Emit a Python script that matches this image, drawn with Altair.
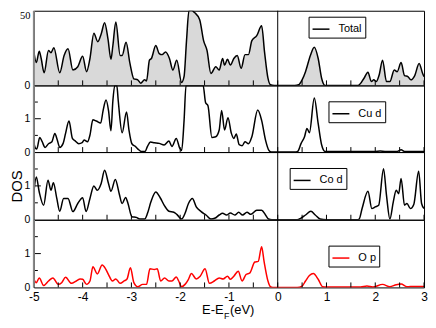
import altair as alt
import pandas as pd

FONT = "Liberation Sans"
SERIF = "Liberation Serif"
W = 392
HEIGHTS = [75, 67, 68, 68]

# ---- data ----
E_total = [-5.00, -4.95, -4.89, -4.85, -4.79, -4.70, -4.65, -4.59, -4.47, -4.38, -4.30, -4.20, -4.10, -4.00,
           -3.92, -3.85, -3.77, -3.69, -3.62, -3.55, -3.48, -3.42, -3.38, -3.32, -3.23, -3.19, -3.11, -3.03,
           -2.95, -2.87, -2.81, -2.73, -2.69, -2.63, -2.59, -2.50, -2.43, -2.37, -2.30, -2.22, -2.15, -2.07,
           -1.97, -1.92, -1.87, -1.82, -1.76, -1.70, -1.60, -1.52, -1.45, -1.37, -1.27, -1.20, -1.13, -1.09,
           -1.03, -0.97, -0.90, -0.83, -0.75, -0.67, -0.60, -0.53, -0.43, -0.33, -0.27, -0.20, -0.15, -0.07,
           0.35, 0.43, 0.50, 0.57, 0.67, 0.75, 0.83, 0.90, 0.97, 1.65, 1.77, 1.85, 1.92, 1.97, 2.02, 2.08,
           2.15, 2.23, 2.30, 2.39, 2.45, 2.53, 2.60, 2.67, 2.73, 2.81, 2.90, 2.97, 3.00]
V_total = [22.4, 15.3, 22.8, 18.0, 8.5, 23.4, 21.9, 25.2, 8.5, 20.0, 24.5, 10.3, 12.5, 19.5,
           9.2, 18.0, 35.0, 29.3, 34.4, 42.0, 31.0, 17.5, 26.7, 42.5, 20.0, 20.0, 28.9, 14.7,
           4.4, 3.7, 1.5, 3.7, 3.0, 16.9, 18.0, 26.7, 21.3, 20.6, 22.3, 18.0, 10.3, 16.9,
           2.0, 6.0, 30.0, 54.0, 53.0, 48.6, 44.0, 30.0, 23.4, 8.0, 12.5, 10.3, 18.0, 13.6,
           17.5, 13.6, 18.0, 20.0, 11.4, 20.6, 20.6, 30.0, 33.3, 39.9, 22.3, 4.8, 0.4, 0.0,
           0.0, 0.4, 3.7, 9.2, 20.0, 25.6, 18.0, 4.8, 0.0, 0.0, 4.8, 8.8, 2.6, 3.7, 2.6, 7.0,
           16.9, 2.6, 2.6, 10.3, 9.2, 15.3, 6.6, 5.9, 3.7, 6.6, 14.7, 8.1, 5.9]

E_cu = [-5.00, -4.97, -4.94, -4.88, -4.83, -4.77, -4.70, -4.63, -4.57, -4.52, -4.47, -4.40, -4.35, -4.28,
        -4.21, -4.15, -4.08, -4.01, -3.97, -3.90, -3.85, -3.79, -3.72, -3.63, -3.58, -3.52, -3.47, -3.42,
        -3.38, -3.34, -3.30, -3.27, -3.19, -3.10, -3.05, -2.99, -2.92, -2.85, -2.80, -2.72, -2.67, -2.61,
        -2.53, -2.43, -2.33, -2.23, -2.17, -2.08, -2.01, -1.97, -1.92, -1.88, -1.80, -1.70, -1.60, -1.53,
        -1.48, -1.43, -1.35, -1.27, -1.20, -1.15, -1.09, -1.02, -0.95, -0.90, -0.85, -0.79, -0.73, -0.67,
        -0.60, -0.53, -0.41, -0.33, -0.25, -0.18, -0.13, 0.35, 0.41, 0.48, 0.55, 0.60, 0.65, 0.75, 0.83,
        0.90, 0.97, 2.00, 2.10, 2.20, 2.45, 2.53, 2.60, 3.00]
V_cu = [0.28, 0.12, 0.09, 0.44, 0.31, 0.14, 0.25, 0.31, 0.56, 0.36, 0.14, 0.26, 0.56, 0.93,
        0.41, 0.33, 0.25, 0.28, 0.36, 0.31, 0.51, 0.97, 0.93, 0.87, 1.25, 1.56, 1.25, 0.64,
        1.54, 2.5, 2.4, 1.54, 0.58, 1.20, 0.66, 0.25, 0.17, 0.07, 0.02, 0.02, 0.17, 0.30,
        0.28, 0.26, 0.21, 0.33, 0.17, 0.41, 0.12, 0.05, 0.95, 2.5, 4.0, 4.0, 3.0, 2.05,
        1.49, 1.39, 0.44, 0.46, 0.66, 1.25, 0.66, 1.03, 0.56, 0.41, 0.54, 0.22, 0.19, 0.31,
        0.25, 0.46, 1.26, 0.95, 0.36, 0.05, 0.0, 0.0, 0.02, 0.26, 0.46, 0.71, 0.58, 1.62, 0.85,
        0.22, 0.02, 0.02, 0.03, 0.02, 0.02, 0.07, 0.02, 0.02]

E_co = [-5.00, -4.95, -4.89, -4.80, -4.71, -4.65, -4.60, -4.53, -4.47, -4.39, -4.30, -4.20, -4.10, -4.00,
        -3.93, -3.85, -3.77, -3.70, -3.62, -3.55, -3.47, -3.42, -3.33, -3.25, -3.19, -3.12, -3.07, -2.99,
        -2.90, -2.83, -2.73, -2.67, -2.60, -2.50, -2.41, -2.32, -2.23, -2.13, -2.07, -1.97, -1.90, -1.83,
        -1.75, -1.67, -1.57, -1.47, -1.37, -1.28, -1.20, -1.13, -1.05, -0.97, -0.88, -0.80, -0.72, -0.63,
        -0.55, -0.43, -0.33, -0.25, -0.19, -0.12, 0.40, 0.47, 0.57, 0.68, 0.77, 0.87, 1.00, 1.62, 1.67,
        1.73, 1.85, 1.93, 2.00, 2.07, 2.17, 2.23, 2.30, 2.37, 2.43, 2.48, 2.53, 2.60, 2.65, 2.72, 2.79,
        2.89, 2.95, 3.00]
V_co = [0.82, 1.26, 0.82, 0.43, 1.17, 0.87, 1.09, 0.63, 0.25, 0.63, 0.63, 0.24, 0.48, 0.65,
        0.24, 0.63, 1.00, 0.87, 1.07, 1.46, 1.07, 0.84, 1.19, 0.77, 0.48, 0.66, 0.48, 0.09,
        0.07, 0.02, 0.02, 0.19, 0.53, 0.82, 0.65, 0.41, 0.25, 0.22, 0.16, 0.02, 0.19, 0.48,
        0.63, 0.38, 0.24, 0.14, 0.02, 0.05, 0.14, 0.19, 0.14, 0.20, 0.14, 0.22, 0.14, 0.22,
        0.16, 0.28, 0.28, 0.14, 0.02, 0.0, 0.0, 0.04, 0.14, 0.25, 0.14, 0.02, 0.0, 0.0, 0.02,
        0.33, 0.84, 0.33, 0.38, 0.43, 1.51, 0.73, 0.02, 0.53, 0.87, 0.77, 1.22, 0.43, 0.48, 0.33, 0.45,
        1.43, 0.48, 0.33]

E_op = [-5.00, -4.95, -4.89, -4.80, -4.70, -4.61, -4.50, -4.43, -4.35, -4.23, -4.13, -4.05, -4.00, -3.92,
        -3.85, -3.79, -3.70, -3.60, -3.53, -3.47, -3.39, -3.32, -3.23, -3.15, -3.09, -3.02, -2.95, -2.87,
        -2.77, -2.69, -2.62, -2.53, -2.47, -2.40, -2.32, -2.23, -2.17, -2.08, -2.03, -1.97, -1.90, -1.83,
        -1.77, -1.67, -1.59, -1.49, -1.40, -1.30, -1.20, -1.12, -1.03, -0.97, -0.90, -0.81, -0.73, -0.65,
        -0.57, -0.47, -0.40, -0.33, -0.28, -0.20, -0.15, -0.10, 0.40, 0.50, 0.57, 0.65, 0.73, 0.83, 0.92,
        1.00, 1.70, 1.83, 1.95, 2.15, 2.30, 2.43, 2.53, 2.65, 2.80, 3.00]
V_op = [0.25, 0.14, 0.28, 0.06, 0.19, 0.28, 0.09, 0.14, 0.30, 0.12, 0.19, 0.25, 0.24, 0.09,
        0.19, 0.61, 0.40, 0.66, 0.55, 0.38, 0.19, 0.25, 0.12, 0.19, 0.25, 0.58, 0.14, 0.02,
        0.09, 0.09, 0.55, 0.53, 0.55, 0.19, 0.28, 0.19, 0.19, 0.31, 0.19, 0.02, 0.09, 0.24,
        0.41, 0.25, 0.33, 0.55, 0.12, 0.19, 0.28, 0.25, 0.33, 0.24, 0.33, 0.48, 0.19, 0.38,
        0.43, 0.75, 0.77, 1.20, 0.77, 0.19, 0.02, 0.0, 0.0, 0.04, 0.19, 0.35, 0.41, 0.24, 0.02,
        0.01, 0.01, 0.04, 0.01, 0.09, 0.02, 0.08, 0.10, 0.02, 0.03, 0.03]

X_LABELS = [-5, -4, -3, -2, -1, 0, 1, 2, 3]
X_TICKS = [-5, -4.5, -4, -3.5, -3, -2.5, -2, -1.5, -1, -0.5, 0, 0.5, 1, 1.5, 2, 2.5, 3]


def panel(E, V, name, color, h, ydom, yvals, yexpr, yfont, lx, ly, fill=False, xlabels=False,
          ytitle=None, minor=None, major=None, extra=None):
    xs = alt.Scale(domain=[-5, 3], nice=False, zero=False)
    ys = alt.Scale(domain=ydom, nice=False, zero=False, clamp=True)
    xa = alt.Axis(values=X_LABELS, labels=xlabels, ticks=False, domain=False, grid=False, title=None,
                  labelFontSize=12, labelFont=FONT, labelColor="black", labelPadding=4,
                  labelExpr="'' + datum.value", labelFlush=False)
    ykw = dict(values=yvals, ticks=False, domain=False, grid=False, labelFontSize=10.5, labelFont=yfont,
               labelColor="black", labelPadding=4, labelExpr=yexpr, labelFlush=True if fill else False)
    if ytitle:
        ykw.update(title=ytitle, titleFontSize=15, titleFont=FONT, titleFontWeight="normal",
                   titlePadding=0, titleColor="black")
    else:
        ykw.update(title=None)
    ya = alt.Axis(**ykw)
    df = pd.DataFrame({"E": E, "DOS": V, "s": name})
    base = alt.Chart(df)
    layers = []
    if fill:
        layers.append(base.mark_area(color="#d9d9d9", interpolate="monotone", clip=True).encode(
            x=alt.X("E:Q", scale=xs, axis=xa), y=alt.Y("DOS:Q", scale=ys, axis=ya)))
    layers.append(base.mark_line(interpolate="monotone", strokeWidth=1.5, clip=True).encode(
        x=alt.X("E:Q", scale=xs, axis=xa), y=alt.Y("DOS:Q", scale=ys, axis=ya),
        color=alt.Color("s:N", scale=alt.Scale(domain=[name], range=[color]),
                        legend=alt.Legend(orient="none", legendX=lx, legendY=ly, title=None,
                                          strokeColor="black", fillColor="white", padding=3,
                                          cornerRadius=0, symbolType="stroke", symbolStrokeWidth=1.5,
                                          symbolSize=289, labelFontSize=11, labelFont=FONT,
                                          labelColor="black", labelOffset=8))))
    layers.append(alt.Chart(pd.DataFrame({"z": [0]})).mark_rule(color="black", strokeWidth=1).encode(
        x=alt.X("z:Q", scale=xs, axis=xa)))
    layers.append(alt.Chart(pd.DataFrame({"t": X_TICKS})).mark_rule(color="black", strokeWidth=1).encode(
        x=alt.X("t:Q", scale=xs, axis=xa), y=alt.value(h), y2=alt.value(h - 5)))
    if minor:
        layers.append(alt.Chart(pd.DataFrame({"t": minor})).mark_rule(color="black", strokeWidth=1).encode(
            y=alt.Y("t:Q", scale=ys, axis=ya), x=alt.value(0), x2=alt.value(4)))
    if major:
        layers.append(alt.Chart(pd.DataFrame({"t": major})).mark_rule(color="black", strokeWidth=1).encode(
            y=alt.Y("t:Q", scale=ys, axis=ya), x=alt.value(0), x2=alt.value(7)))
    layers.append(alt.Chart(pd.DataFrame({"z": [0]})).mark_rule(color="#888888", strokeWidth=2).encode(
        x=alt.value(0)))
    if extra:
        layers.extend(extra)
    return alt.layer(*layers).properties(width=W, height=h)


def label(txt, x, y, size):
    return alt.Chart(pd.DataFrame({"a": [0]})).mark_text(
        text=txt, align="left", baseline="alphabetic", fontSize=size, font=FONT, color="black").encode(
        x=alt.value(x), y=alt.value(y))


xtitle = [label("E-E", 169, 95, 13), label("F", 191, 100, 9), label("(eV)", 197, 95, 13)]

p1 = panel(E_total, V_total, "Total", "black", HEIGHTS[0], [0, 50], [50], "'' + datum.value", SERIF,
           276, 6, fill=True)
p2 = panel(E_cu, V_cu, "Cu d", "black", HEIGHTS[1], [0, 2], [0, 1, 2],
           "datum.value == 2 ? '0' : '' + datum.value", FONT, 296, 16, minor=[0.5, 1.5], major=[1])
p3 = panel(E_co, V_co, "Co d", "black", HEIGHTS[2], [0, 2], [0, 1], "'' + datum.value", FONT,
           257, 16, ytitle="DOS", minor=[0.5, 1.5], major=[1])
p4 = panel(E_op, V_op, "O p", "#ff0000", HEIGHTS[3], [0, 2], [0, 1], "'' + datum.value", FONT,
           296, 26, xlabels=True, minor=[0.5, 1.5], major=[1], extra=xtitle)

chart = alt.vconcat(p1, p2, p3, p4, spacing=0, bounds="flush").resolve_scale(
    x="independent", y="independent", color="independent").resolve_legend(color="independent").configure_view(
    stroke="black", strokeWidth=1).properties(padding={"left": 0, "top": 0, "right": 0, "bottom": 0})

chart.save("out.html", embed_options={"renderer": "svg", "actions": False})
